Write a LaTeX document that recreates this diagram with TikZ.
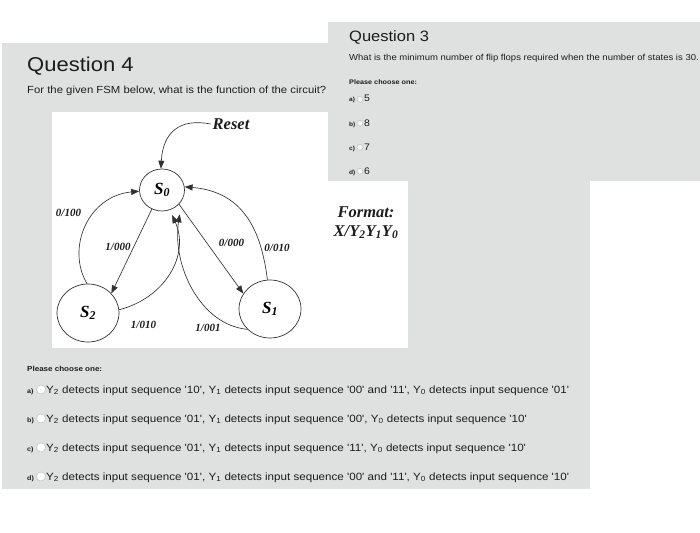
\documentclass[tikz,border=0pt]{standalone}
\usepackage{fontspec}
\newfontfamily\ui{Liberation Sans}[FakeStretch=1.1]
\newfontfamily\dg{Liberation Serif}
\usetikzlibrary{arrows.meta,shapes.geometric}
\definecolor{panel}{RGB}{223,225,225}
\definecolor{ink}{RGB}{28,28,28}
\definecolor{wire}{RGB}{50,50,50}
\definecolor{radioedge}{RGB}{190,192,192}
\begin{document}
\begin{tikzpicture}[x=1pt,y=-1pt,
  uitext/.style={anchor=base west,inner sep=0pt,text=ink},
  head/.style={uitext,font=\ui\fontsize{#1}{#1}\selectfont},
  body/.style={uitext,font=\ui\fontsize{#1}{#1}\selectfont},
  bold/.style={uitext,font=\ui\bfseries\fontsize{#1}{#1}\selectfont},
  radio/.style={circle,draw=radioedge,line width=0.5pt,fill=#1,minimum size=6pt,inner sep=0pt},
  bigradio/.style={circle,draw=radioedge,line width=0.5pt,fill=white,minimum size=9pt,inner sep=0pt},
  statenode/.style={draw=wire,line width=0.7pt,ellipse,inner sep=0pt,
     minimum width=62pt,minimum height=58pt,
     font=\dg\bfseries\itshape\fontsize{17}{17}\selectfont},
  lbl/.style={font=\dg\bfseries\itshape\fontsize{11}{11}\selectfont,inner sep=0pt,text=ink},
  big/.style={font=\dg\bfseries\itshape\fontsize{16.5}{18}\selectfont,inner sep=2pt,text=ink},
  edge/.style={draw=wire,line width=0.65pt,-{Triangle[length=8pt,width=6pt]}}
]
\useasboundingbox (0,0) rectangle (700,532);
\fill[white] (0,0) rectangle (700,532);
% panels
\fill[panel] (2,43) rectangle (590,489);
\fill[white] (52,112) rectangle (408,348);
\fill[panel] (328,22) rectangle (700,181);

% Question 4 header
\node[head=20] (q4) at (27,72) {Question 4};
\node[body=10.3] (q4t) at (27,93) {For the given FSM below, what is the function of the circuit?};

% Question 3
\node[head=15] (q3) at (349,42) {Question 3};
\node[body=8.65] (q3t) at (349,61) {What is the minimum number of flip flops required when the number of states is 30.};
\node[bold=6.6] (q3p) at (349,84.5) {Please choose one:};
\foreach \l/\v/\y [count=\i] in {a/5/102,b/8/126,c/7/150,d/6/174}{
  \node[bold=6] (q3l\i) at (349,\y) {\l)};
  \node[radio=panel!40!white] (q3r\i) at (360,\y-2.7) {};
  \node[body=9.5] (q3v\i) at (364,\y) {\v};
}

% Diagram
\node[statenode,minimum width=45pt,minimum height=42pt] (S0) at (162,190) {S\textsubscript{0}};
\node[statenode] (S2) at (88,313) {S\textsubscript{2}};
\node[statenode] (S1) at (270,309) {S\textsubscript{1}};

\node[big] (rst) at (231,124) {Reset};
\draw[edge] (rst.west) .. controls (180,118) and (163,132) .. (S0.93);

\draw[edge] (S2.92) .. controls (66,248) and (88,196) .. (S0.183);
\draw[edge] (S0.242) -- (S2.40);
\draw[edge] (S2.6) .. controls (165,298) and (190,255) .. ([yshift=-6pt]S0.-62);
\draw[edge] (S0.-40) -- (S1.150);
\draw[edge] (S1.95) .. controls (262,238) and (248,192) .. (S0.8);
\draw[edge] (S1.222) .. controls (200,325) and (172,265) .. ([xshift=3pt,yshift=-8pt]S0.-48);

\node[lbl] (l0100) at (68.5,213) {0/100};
\node[lbl] (l1000) at (118,247) {1/000};
\node[lbl] (l0000) at (231.5,243) {0/000};
\node[lbl] (l0010) at (277,248) {0/010};
\node[lbl] (l1010) at (143.5,325) {1/010};
\node[lbl] (l1001) at (208,328) {1/001};

\node[big] (fmt) at (366,212) {Format:};
\node[big] (fmtv) at (366,232) {X/Y\textsubscript{2}Y\textsubscript{1}Y\textsubscript{0}};

% bottom options
\node[bold=7.3] (bp) at (27,371) {Please choose one:};
\foreach \l/\t/\y [count=\i] in {
 a/{Y\textsubscript{2} detects input sequence '10', Y\textsubscript{1} detects input sequence '00' and '11', Y\textsubscript{0} detects input sequence '01'}/393,
 b/{Y\textsubscript{2} detects input sequence '01', Y\textsubscript{1} detects input sequence '00', Y\textsubscript{0} detects input sequence '10'}/422,
 c/{Y\textsubscript{2} detects input sequence '01', Y\textsubscript{1} detects input sequence '11', Y\textsubscript{0} detects input sequence '10'}/451,
 d/{Y\textsubscript{2} detects input sequence '01', Y\textsubscript{1} detects input sequence '00' and '11', Y\textsubscript{0} detects input sequence '10'}/480}{
  \node[bold=6.5] (bl\i) at (27,\y) {\l)};
  \node[bigradio] (br\i) at (41,\y-3.5) {};
  \node[body=10.55] (bt\i) at (46,\y) {\t};
}
\end{tikzpicture}
\end{document}
